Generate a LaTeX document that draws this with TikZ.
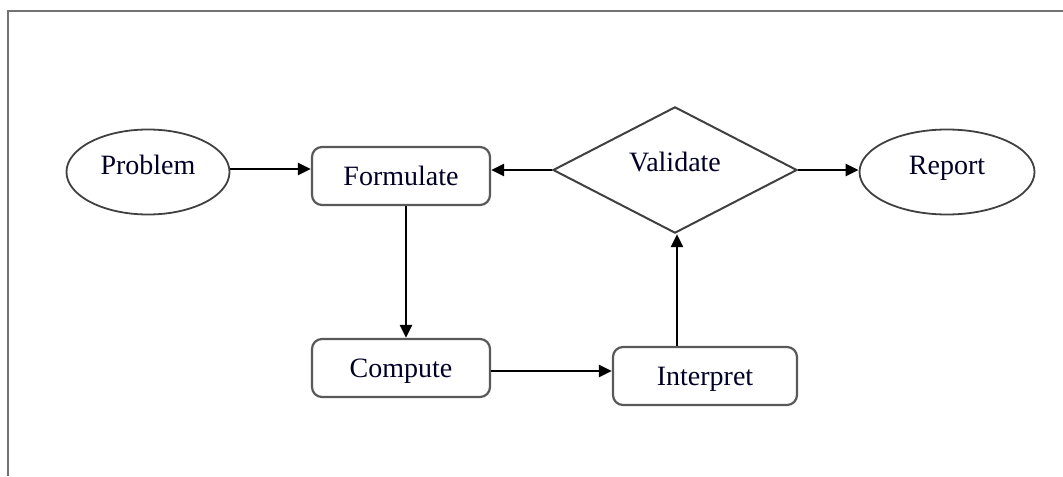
\documentclass[tikz,border=0pt]{standalone}
\usepackage{fontspec}
\setmainfont{Liberation Serif}
\usetikzlibrary{shapes.geometric,arrows.meta}
\begin{document}
\begin{tikzpicture}[x=0.5pt,y=-0.5pt,
  every node/.style={font=\fontsize{14}{16}\selectfont, text=black!85!blue, inner sep=0pt},
  oval/.style={ellipse, draw=black!75, line width=0.9pt, text height=9.27pt, text depth=6.5pt},
  stepbox/.style={rectangle, rounded corners=5pt, draw=black!65, line width=1.1pt, minimum width=89pt, minimum height=29pt, text height=9.27pt, text depth=0pt},
  decision/.style={diamond, draw=black!75, line width=1pt, minimum width=122pt, minimum height=62.5pt, text height=9.27pt, text depth=8pt},
  arr/.style={-{Triangle[length=6.5pt,width=6pt]}, line width=1.3pt, black},
  frame/.style={draw=black!55, line width=1pt}]
\useasboundingbox (0,0) rectangle (1063,476);
\coordinate (fa) at (8,476);
\coordinate (fb) at (8,11);
\coordinate (fc) at (1063,11);
\draw[frame] (fa) -- (fb) -- (fc);
\node[oval, minimum width=81.5pt, minimum height=42.5pt] (Problem) at (148,172) {Problem};
\node[stepbox] (Formulate) at (401,176) {Formulate};
\node[decision] (Validate) at (675,170) {Validate};
\node[oval, minimum width=87.5pt, minimum height=42.5pt] (Report) at (947,172) {Report};
\node[stepbox] (Compute) at (401,368) {Compute};
\node[stepbox, minimum width=92pt] (Interpret) at (705,376) {Interpret};
\draw[arr] ([yshift=1.5pt]Problem.east) -- ([yshift=1.5pt]Problem.east -| Formulate.west);
\draw[arr] (Validate.west) -- (Validate.west -| Formulate.east);
\draw[arr] (Validate.east) -- (Validate.east -| Report.west);
\draw[arr] ([xshift=2.5pt]Formulate.south) -- ([xshift=2.5pt]Formulate.south |- Compute.north);
\draw[arr] ([yshift=-1.5pt]Compute.east) -- ([yshift=-1.5pt]Compute.east -| Interpret.west);
\draw[arr] ([xshift=1pt]Validate.south |- Interpret.north) -- ([xshift=1pt]Validate.south);
\end{tikzpicture}
\end{document}
